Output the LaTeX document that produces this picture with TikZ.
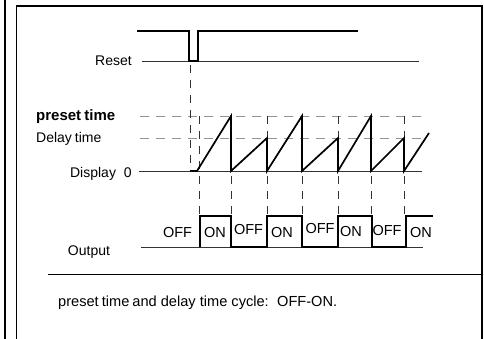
\documentclass[tikz,border=0pt]{standalone}
\usepackage{fontspec}
\setmainfont{Liberation Sans}
\usetikzlibrary{positioning}

\begin{document}
\begin{tikzpicture}[
        x=1pt, y=-1pt,
        signal/.style={line width=1.7pt, line join=miter},
        axis/.style={line width=0.9pt, black!80},
        guide/.style={line width=0.9pt, gray!85, dash pattern=on 9pt off 7pt},
        marker/.style={line width=0.8pt, black!80, dash pattern=on 8pt off 7pt},
        lbl/.style={inner sep=0pt, font=\fontsize{14}{16}\selectfont},
        state/.style={inner sep=0pt, anchor=base, font=\fontsize{14.5}{16}\selectfont}
    ]
        \useasboundingbox (0,0) rectangle (484,339);

        % Frame
        \draw[line width=1.8pt] (5,0) -- (5,339);
        \draw[line width=1.4pt] (16.5,339) -- (16.5,6) -- (482,6) -- (482,339);

        % Signal names
        \node[lbl, anchor=base east] (reset) at (132,66) {Reset};
        \node[lbl, anchor=base west] (preset) at (36,121) {\fontsize{15}{16}\selectfont\bfseries preset\hspace{-1pt} time};
        \node[lbl, anchor=base west] (delay) at (36,143) {Delay\hspace{-1pt} time};
        \node[lbl, anchor=base east] (display) at (132,178) {Display\hspace{8pt}0};
        \node[lbl, anchor=base] (output) at (89,255.5) {Output};

        % Reset pulse
        \draw[axis] (reset.base east) ++(10,-5) -- (419,61);
        \draw[signal] (137,31) -- (189,31) -- (189,61) -- (198,61) -- (198,31) -- (358,31);

        % Levels
        \draw[guide] (140,116) -- (422,116);
        \draw[guide] (140,138) -- (422,138);
        \draw[axis] (139,171) -- (422,171);

        % Timing markers
        \draw[marker] (190,65) -- (190,171);
        \foreach \t in {199,231,267,302,338,371,404}
            \draw[marker] (\t,116) -- (\t,216);

        % Display sawtooth
        \draw[signal] (190,171) -- (197,171) -- (231,116) -- (231,171) -- (267,138) -- (267,171)
            -- (302,116) -- (302,171) -- (338,138) -- (338,171) -- (371,116) -- (371,171)
            -- (404,138) -- (404,171) -- (429,133);

        % Output
        \draw[axis] (141,247) -- (423,247);
        \draw[signal] (200,247) -- (200,216) -- (231,216) -- (231,247) -- (267,247) -- (267,216)
            -- (302,216) -- (302,247) -- (338,247) -- (338,216) -- (372,216) -- (372,247)
            -- (406,247) -- (406,216) -- (433,216);

        \foreach \name/\x/\y/\txt in {off1/177.5/237.3/OFF, on1/215/237/ON, off2/248.5/234/OFF, on2/282/237.7/ON,
                off3/320/233.5/OFF, on3/351/236.8/ON, off4/387/235/OFF, on4/421/237.7/ON}
            \node[state] (\name) at (\x,\y) {\txt};

        % Note
        \draw[line width=1pt] (48,274) -- (482,274);
        \node[lbl, anchor=base west] (note) at (58,306)
            {\fontsize{14.6}{16}\selectfont preset\hspace{-1pt} time\hspace{-1pt} and delay time cycle:\hspace{3pt} OFF-ON.};
    \end{tikzpicture}
\end{document}
